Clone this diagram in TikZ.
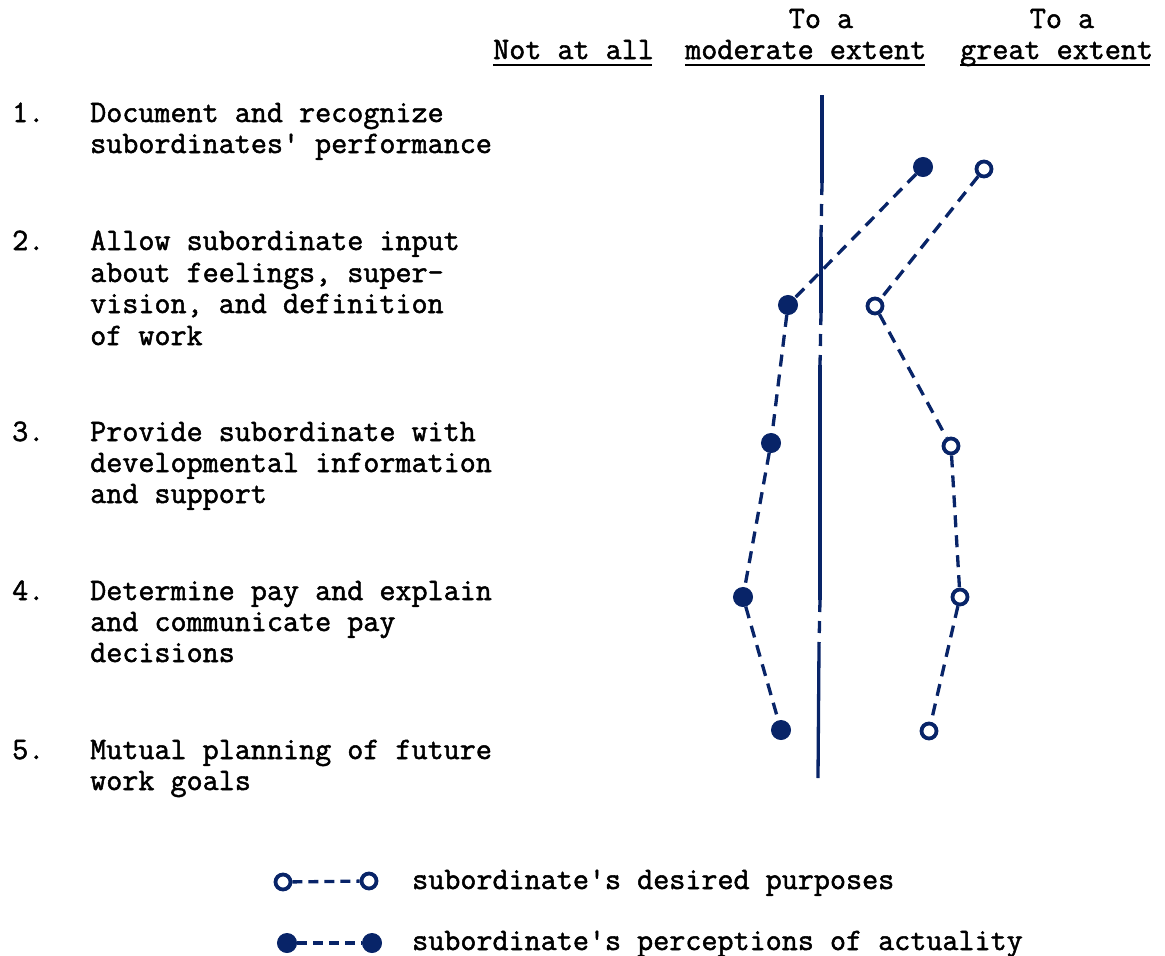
\documentclass[tikz,border=0pt]{standalone}
\usepackage{fontspec}
\newfontfamily\tw{Latin Modern Mono}[FakeBold=1.6]
\definecolor{ink}{RGB}{8,36,104}
\tikzset{
  txt/.style={anchor=base west,inner sep=0pt,font=\tw\fontsize{31.2}{32}\selectfont,text=black},
  hdr/.style={anchor=base,inner sep=0pt,font=\tw\fontsize{31.2}{32}\selectfont,text=black},
  act/.style={circle,fill=ink,draw=ink,line width=1pt,minimum size=19pt,inner sep=0pt},
  des/.style={circle,draw=ink,fill=white,line width=3.8pt,minimum size=15pt,inner sep=0pt},
  conn/.style={draw=ink,line width=3.3pt,dash pattern=on 12pt off 8pt},
  axis/.style={draw=ink,line width=3.3pt},
  axisd/.style={draw=ink,line width=3.3pt,dash pattern=on 12pt off 9pt},
  uline/.style={draw=black,line width=2.2pt}
}
\begin{document}
\begin{tikzpicture}[x=1pt,y=-1pt]
\useasboundingbox (0,0) rectangle (1165,956);
% header
\node[hdr] (h1) at (821,28) {To a};
\node[hdr] (h2) at (1062,28) {To a};
\node[txt] (n1) at (493,59) {Not at all};
\node[txt] (n2) at (685,59) {moderate extent};
\node[txt] (n3) at (960,59) {great extent};
\draw[uline] (493,65) -- (652,65);
\draw[uline] (685,65) -- (925,65);
\draw[uline] (960,65) -- (1150,65);
% items
\node[txt] (i1) at (12,122) {1.};
\node[txt] (t1a) at (90,122) {Document and recognize};
\node[txt] (t1b) at (90,153) {subordinates' performance};
\node[txt] (i2) at (12,250) {2.};
\node[txt] (t2a) at (90,250) {Allow subordinate input};
\node[txt] (t2b) at (90,282) {about feelings, super-};
\node[txt] (t2c) at (90,313) {vision, and definition};
\node[txt] (t2d) at (90,345) {of work};
\node[txt] (i3) at (12,441) {3.};
\node[txt] (t3a) at (90,441) {Provide subordinate with};
\node[txt] (t3b) at (90,472) {developmental information};
\node[txt] (t3c) at (90,503) {and support};
\node[txt] (i4) at (12,600) {4.};
\node[txt] (t4a) at (90,600) {Determine pay and explain};
\node[txt] (t4b) at (90,631) {and communicate pay};
\node[txt] (t4c) at (90,662) {decisions};
\node[txt] (i5) at (12,759) {5.};
\node[txt] (t5a) at (90,759) {Mutual planning of future};
\node[txt] (t5b) at (90,790) {work goals};
% central axis
\coordinate (v0) at (822,95);
\coordinate (v1) at (822,183);
\coordinate (v2) at (821,237);
\coordinate (v3) at (821,313);
\coordinate (v4) at (820,365);
\coordinate (v5) at (820,600);
\coordinate (v6) at (819,647);
\coordinate (v7) at (818,778);
\draw[axis] (v0) -- (v1);
\draw[axisd] (v1) -- (v2);
\draw[axis] (v2) -- (v3);
\draw[axisd] (v3) -- (v4);
\draw[axis] (v4) -- (v5);
\draw[axisd] (v5) -- (v6);
\draw[axis] (v6) -- (v7);
% actuality (filled)
\node[act] (a1) at (923,167) {};
\node[act] (a2) at (788,305) {};
\node[act] (a3) at (771,443) {};
\node[act] (a4) at (743,597) {};
\node[act] (a5) at (781,730) {};
% desired (open)
\node[des] (d1) at (984,169) {};
\node[des] (d2) at (875,306) {};
\node[des] (d3) at (951,446) {};
\node[des] (d4) at (960,597) {};
\node[des] (d5) at (929,731) {};
\draw[conn] (a1) -- (a2);
\draw[conn] (a2) -- (a3);
\draw[conn] (a3) -- (a4);
\draw[conn] (a4) -- (a5);
\draw[conn] (d1) -- (d2);
\draw[conn] (d2) -- (d3);
\draw[conn] (d3) -- (d4);
\draw[conn] (d4) -- (d5);
% legend
\node[des] (l1a) at (283,882) {};
\node[des] (l1b) at (369,881) {};
\draw[conn,dash pattern=on 10pt off 6pt] (l1a) -- (l1b);
\node[txt] (lt1) at (412,889) {subordinate's desired purposes};
\node[act] (l2a) at (287,943) {};
\node[act] (l2b) at (372,943) {};
\draw[conn,dash pattern=on 10pt off 6pt] (l2a) -- (l2b);
\node[txt] (lt2) at (412,950) {subordinate's perceptions of actuality};
\end{tikzpicture}
\end{document}
